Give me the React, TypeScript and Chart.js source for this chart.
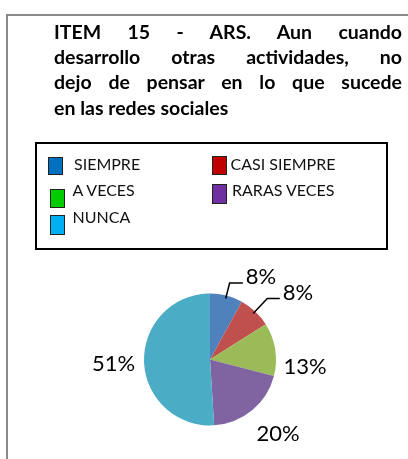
import React, { useEffect, useRef } from "react";
import { Chart, registerables } from "chart.js";

Chart.register(...registerables);

// ---- data ----
const titleLines = [
  "ITEM 15 - ARS. Aun cuando",
  "desarrollo otras actividades, no",
  "dejo de pensar en lo que sucede",
  "en las redes sociales",
];
const categories = ["SIEMPRE", "CASI SIEMPRE", "A VECES", "RARAS VECES", "NUNCA"];
const values = [8, 8, 13, 20, 51];
const sliceColors = ["#4F81BD", "#C0504D", "#9BBB59", "#8064A2", "#4BACC6"];
const legendColors = ["#0070C0", "#C00000", "#00CC00", "#7030A0", "#00B0F0"];

// ---- layout / style ----
const FONT = "Lato, 'Open Sans', sans-serif";
const LABEL_FONT = 22;
const labelAngleShift = [17.2, 9.3, 13.2, -3.2, -0.6]; // degrees, relative to slice mid-angle
const labelRadialGap = [31.4, 44.9, 29.3, 34.1, 30.6]; // px beyond outer radius
const hasLeader = [true, true, false, false, false];

const legendLayout = [
  { sx: 48, sy: 157, sw: 15, sh: 18, tx: 74, base: 170 },
  { sx: 212, sy: 156, sw: 15, sh: 19, tx: 230.5, base: 170 },
  { sx: 49.5, sy: 188.5, sw: 15, sh: 19, tx: 72.5, base: 196 },
  { sx: 212, sy: 183.5, sw: 15, sh: 20, tx: 232, base: 196.5 },
  { sx: 49.5, sy: 215, sw: 15, sh: 20, tx: 72.5, base: 223.3 },
];

const labelPlugin = {
  id: "pctLabels",
  afterDatasetsDraw(chart: any) {
    const ctx = chart.ctx as CanvasRenderingContext2D;
    const meta = chart.getDatasetMeta(0);
    const data = chart.data.datasets[0].data as number[];
    const total = data.reduce((a, b) => a + b, 0);
    ctx.save();
    ctx.font = `${LABEL_FONT}px ${FONT}`;
    ctx.fillStyle = "#000";
    ctx.strokeStyle = "#000";
    ctx.lineWidth = 1.5;
    meta.data.forEach((el: any, i: number) => {
      const { x, y, startAngle, endAngle, outerRadius } = el.getProps(
        ["x", "y", "startAngle", "endAngle", "outerRadius"],
        true
      );
      const mid = (startAngle + endAngle) / 2;
      const a = mid + (labelAngleShift[i] * Math.PI) / 180;
      const d = outerRadius + labelRadialGap[i];
      const cx = x + d * Math.cos(a);
      const cy = y + d * Math.sin(a);
      const text = Math.round((data[i] / total) * 100) + "%";
      const w = ctx.measureText(text).width;
      ctx.textAlign = "center";
      ctx.textBaseline = "alphabetic";
      ctx.fillText(text, cx, cy + 0.36 * LABEL_FONT);
      if (hasLeader[i]) {
        const hy = cy + 6.5;
        const start = outerRadius - 3;
        const sx = x + start * Math.cos(mid);
        const sy = y + start * Math.sin(mid);
        const t = (hy - y) / Math.sin(mid);
        const ex = x + t * Math.cos(mid);
        ctx.beginPath();
        ctx.moveTo(sx, sy);
        ctx.lineTo(ex, hy);
        ctx.lineTo(cx - w / 2 - 3, hy);
        ctx.stroke();
      }
    });
    ctx.restore();
  },
};

export default function App() {
  const ref = useRef<HTMLCanvasElement>(null);

  useEffect(() => {
    if (!ref.current) return;
    const chart = new Chart(ref.current, {
      type: "pie",
      data: {
        labels: categories,
        datasets: [
          {
            data: values,
            backgroundColor: sliceColors,
            borderWidth: 0,
            hoverOffset: 0,
            offset: 0,
          },
        ],
      },
      options: {
        responsive: false,
        animation: false,
        devicePixelRatio: 1,
        layout: { padding: { left: 144, right: 132, top: 293.5, bottom: 33.5 } },
        plugins: {
          legend: { display: false },
          tooltip: { enabled: false },
          title: { display: false },
        },
      },
      plugins: [labelPlugin],
    });
    return () => chart.destroy();
  }, []);

  return (
    <div
      style={{
        position: "absolute",
        left: 0,
        top: 0,
        width: 408,
        height: 459,
        overflow: "hidden",
        background: "#fff",
        fontFamily: FONT,
      }}
    >
      <div
        style={{
          position: "absolute",
          left: 6,
          top: 14,
          width: 430,
          height: 470,
          border: "2px solid #8a8a8a",
          boxSizing: "border-box",
        }}
      />
      <canvas
        ref={ref}
        width={408}
        height={459}
        style={{ position: "absolute", left: 0, top: 0, width: 408, height: 459 }}
      />
      <div
        style={{
          position: "absolute",
          left: 54,
          top: 18.8,
          width: 348,
          fontWeight: 700,
          fontSize: 19.5,
          lineHeight: "25.3px",
          color: "#000",
        }}
      >
        {titleLines.map((line, i) => (
          <div
            key={i}
            style={{
              textAlign: i < titleLines.length - 1 ? "justify" : "left",
              textAlignLast: i < titleLines.length - 1 ? "justify" : "left",
              whiteSpace: "nowrap",
            }}
          >
            {line}
          </div>
        ))}
      </div>
      <div
        style={{
          position: "absolute",
          left: 35,
          top: 142,
          width: 353,
          height: 108,
          border: "2px solid #000",
          boxSizing: "border-box",
        }}
      />
      {categories.map((c, i) => {
        const L = legendLayout[i];
        return (
          <React.Fragment key={c}>
            <div
              style={{
                position: "absolute",
                left: L.sx,
                top: L.sy,
                width: L.sw,
                height: L.sh,
                background: legendColors[i],
                border: "1px solid #222",
                boxSizing: "border-box",
              }}
            />
            <div
              style={{
                position: "absolute",
                left: L.tx,
                top: L.base - 14.2,
                fontSize: 16,
                lineHeight: "16px",
                color: "#111",
                whiteSpace: "nowrap",
              }}
            >
              {c}
            </div>
          </React.Fragment>
        );
      })}
    </div>
  );
}
